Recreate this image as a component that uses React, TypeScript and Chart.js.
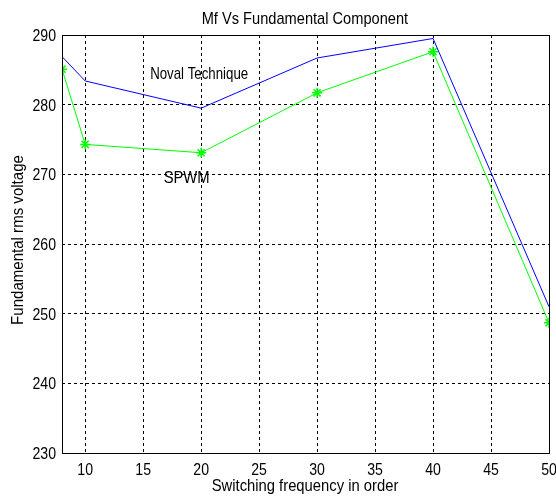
import React, { useEffect, useRef } from "react";
import { Chart, registerables } from "chart.js";

Chart.register(...registerables);

const xValues = [8, 10, 20, 30, 40, 50];
const novalTechnique = [286.9, 283.4, 279.5, 286.7, 289.5, 251.0];
const spwm = [285.1, 274.3, 273.1, 281.7, 287.6, 248.7];
const xTicks = [10, 15, 20, 25, 30, 35, 40, 45, 50];
const yTicks = [230, 240, 250, 260, 270, 280, 290];

const titleText = "Mf Vs Fundamental Component";
const xTitle = "Switching frequency in order";
const yTitle = "Fundamental rms voltage";
const seriesLabels = ["Noval Technique", "SPWM"];
const labelAnchors = [
  { x: 19.83, y: 283.64 },
  { x: 18.75, y: 268.71 },
];

const FONT = "'Liberation Sans', Arial, sans-serif";

function drawText(
  ctx: CanvasRenderingContext2D,
  text: string,
  x: number,
  y: number,
  size: number,
  sx: number,
  align: CanvasTextAlign,
  rotate = false
) {
  ctx.save();
  ctx.translate(x, y);
  if (rotate) ctx.rotate(-Math.PI / 2);
  ctx.scale(sx, 1);
  ctx.font = `${size}px ${FONT}`;
  ctx.textAlign = align;
  ctx.textBaseline = "alphabetic";
  ctx.fillStyle = "#000";
  ctx.fillText(text, 0, 0);
  ctx.restore();
}

const textPlugin = {
  id: "textPlugin",
  afterDraw(chart: any) {
    const { ctx, chartArea, scales } = chart;
    ctx.save();
    ctx.strokeStyle = "#000";
    ctx.lineWidth = 1;
    ctx.setLineDash([]);
    ctx.strokeRect(
      Math.round(chartArea.left) + 0.5,
      Math.round(chartArea.top) + 0.5,
      Math.round(chartArea.right - chartArea.left),
      Math.round(chartArea.bottom - chartArea.top)
    );
    ctx.restore();

    // tick labels
    yTicks.forEach((v) => {
      drawText(ctx, String(v), chartArea.left - 6, scales.y.getPixelForValue(v) + 6, 17, 0.83, "right");
    });
    xTicks.forEach((v) => {
      drawText(ctx, String(v), scales.x.getPixelForValue(v), chartArea.bottom + 22, 17, 0.83, "center");
    });

    // titles
    const cx = (chartArea.left + chartArea.right) / 2;
    drawText(ctx, titleText, cx - 0.6, 24, 17, 0.86, "center");
    drawText(ctx, xTitle, cx - 0.5, 491, 17, 0.87, "center");
    drawText(ctx, yTitle, 22.5, (chartArea.top + chartArea.bottom) / 2 - 4, 17, 0.885, "center", true);

    // series annotations
    const labelScales = [0.78, 0.87];
    labelAnchors.forEach((p, i) => {
      drawText(
        ctx,
        seriesLabels[i],
        scales.x.getPixelForValue(p.x),
        scales.y.getPixelForValue(p.y),
        17,
        labelScales[i],
        "center"
      );
    });
  },
};

export default function App() {
  const ref = useRef<HTMLCanvasElement>(null);
  useEffect(() => {
    if (!ref.current) return;
    const chart = new Chart(ref.current, {
      type: "line",
      data: {
        datasets: [
          {
            label: seriesLabels[0],
            data: xValues.map((x, i) => ({ x, y: novalTechnique[i] })),
            borderColor: "#0000ff",
            backgroundColor: "#0000ff",
            borderWidth: 1,
            pointRadius: 0,
            tension: 0,
          },
          {
            label: seriesLabels[1],
            data: xValues.map((x, i) => ({ x, y: spwm[i] })),
            borderColor: "#00ff00",
            backgroundColor: "#00ff00",
            borderWidth: 1,
            pointStyle: "star",
            pointRadius: 5,
            pointBorderWidth: 1.5,
            pointBorderColor: "#00ff00",
            tension: 0,
          },
        ],
      },
      options: {
        animation: false,
        responsive: false,
        devicePixelRatio: 1,
        layout: { padding: { top: 35, right: 7, left: 0, bottom: 0 } },
        plugins: {
          legend: { display: false },
          title: { display: false },
          tooltip: { enabled: false },
        },
        scales: {
          x: {
            type: "linear",
            min: 8,
            max: 50,
            afterBuildTicks: (scale: any) => {
              scale.ticks = xTicks.map((v) => ({ value: v }));
            },
            afterFit: (scale: any) => {
              scale.height = 44;
              scale.paddingLeft = 0;
              scale.paddingRight = 0;
            },
            grid: { color: "#000", lineWidth: 1, drawTicks: false },
            border: { display: false, dash: [3, 3] },
            ticks: { display: false, autoSkip: false },
          },
          y: {
            type: "linear",
            min: 230,
            max: 290,
            afterBuildTicks: (scale: any) => {
              scale.ticks = yTicks.map((v) => ({ value: v }));
            },
            afterFit: (scale: any) => {
              scale.width = 62;
              scale.paddingTop = 0;
              scale.paddingBottom = 0;
            },
            grid: { color: "#000", lineWidth: 1, drawTicks: false },
            border: { display: false, dash: [3, 3] },
            ticks: { display: false, autoSkip: false },
          },
        },
      },
      plugins: [textPlugin],
    });
    return () => chart.destroy();
  }, []);
  return (
    <div style={{ position: "fixed", left: 0, top: 0, width: 556, height: 497, background: "#fff" }}>
      <canvas ref={ref} width={556} height={497} style={{ width: 556, height: 497 }} />
    </div>
  );
}
